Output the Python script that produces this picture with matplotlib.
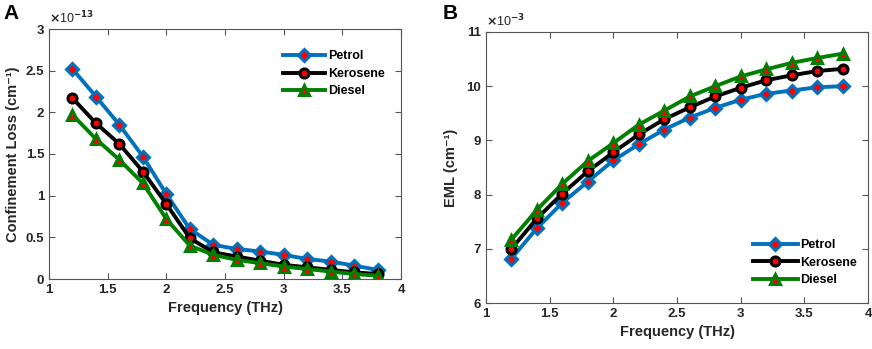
import matplotlib
matplotlib.use('Agg')
import matplotlib.pyplot as plt

plt.rcParams['font.family'] = ['Liberation Sans', 'DejaVu Sans']
plt.rcParams['font.weight'] = 'bold'

# Frecuencia (THz)
freq = [1.2, 1.4, 1.6, 1.8, 2.0, 2.2, 2.4, 2.6, 2.8, 3.0, 3.2, 3.4, 3.6, 3.8]

# Confinement loss, en unidades de 1e-13 cm^-1
cl_petrol = [2.52, 2.19, 1.85, 1.47, 1.02, 0.60, 0.41, 0.36, 0.33, 0.29, 0.24, 0.21, 0.16, 0.11]
cl_kerosene = [2.17, 1.87, 1.62, 1.29, 0.90, 0.49, 0.32, 0.27, 0.22, 0.17, 0.14, 0.11, 0.08, 0.06]
cl_diesel = [1.97, 1.68, 1.43, 1.15, 0.72, 0.40, 0.29, 0.23, 0.19, 0.15, 0.12, 0.09, 0.06, 0.04]

# EML, en unidades de 1e-3 cm^-1
eml_petrol = [6.82, 7.38, 7.85, 8.24, 8.63, 8.93, 9.20, 9.42, 9.60, 9.75, 9.86, 9.92, 9.98, 10.00]
eml_kerosene = [7.00, 7.56, 8.02, 8.43, 8.78, 9.11, 9.39, 9.61, 9.81, 9.97, 10.11, 10.20, 10.28, 10.32]
eml_diesel = [7.17, 7.72, 8.20, 8.62, 8.95, 9.29, 9.55, 9.81, 10.00, 10.18, 10.31, 10.43, 10.52, 10.60]

labels = ['Petrol', 'Kerosene', 'Diesel']
estilos = [
    dict(color='#0072BD', marker='D', markersize=6),
    dict(color='black', marker='o', markersize=6.5),
    dict(color='#008000', marker='^', markersize=7.5),
]

fig = plt.figure(figsize=(8.72, 3.49), dpi=100)
axA = fig.add_axes([49 / 872, 1 - 279 / 349, 352 / 872, 250 / 349])
axB = fig.add_axes([486 / 872, 1 - 303 / 349, 382 / 872, 271 / 349])


def dibujar(ax, series):
    for vals, lab, est in zip(series, labels, estilos):
        ax.plot(freq, vals, linewidth=2.8, markerfacecolor='red',
                markeredgecolor=est['color'], markeredgewidth=2.2,
                label=lab, **est)
    ax.set_xlim(1, 4)
    ax.set_xticks([1, 1.5, 2, 2.5, 3, 3.5, 4])
    ax.set_xticklabels(['1', '1.5', '2', '2.5', '3', '3.5', '4'])
    ax.tick_params(direction='in', top=True, right=True, length=4,
                   color='#555555', labelsize=9.5, labelcolor='#262626')
    for s in ax.spines.values():
        s.set_color('#555555')
        s.set_linewidth(0.8)
    ax.set_xlabel('Frequency (THz)', fontsize=10.5, fontweight='bold', color='#262626', labelpad=4)


dibujar(axA, [cl_petrol, cl_kerosene, cl_diesel])
axA.set_ylim(0, 3)
axA.set_yticks([0, 0.5, 1, 1.5, 2, 2.5, 3])
axA.set_yticklabels(['0', '0.5', '1', '1.5', '2', '2.5', '3'])
axA.set_ylabel('Confinement Loss (cm⁻¹)', fontsize=10.5, fontweight='bold',
               color='#262626', labelpad=4)
axA.text(0.0, 1.01, r'$\times$10$^{-13}$', transform=axA.transAxes, fontsize=9, color='#262626',
         ha='left', va='bottom', fontweight='normal')
axA.legend(loc='upper right', frameon=False, handlelength=3.4, fontsize=9,
           bbox_to_anchor=(0.985, 0.96), labelspacing=0.45, handletextpad=0.2)

dibujar(axB, [eml_petrol, eml_kerosene, eml_diesel])
axB.set_ylim(6, 11)
axB.set_yticks([6, 7, 8, 9, 10, 11])
axB.set_ylabel('EML (cm⁻¹)', fontsize=10.5, fontweight='bold', color='#262626', labelpad=6)
axB.text(0.0, 1.01, r'$\times$10$^{-3}$', transform=axB.transAxes, fontsize=9, color='#262626',
         ha='left', va='bottom', fontweight='normal')
axB.legend(loc='lower right', frameon=False, handlelength=3.6, fontsize=9,
           bbox_to_anchor=(1.0, 0.02), labelspacing=0.45, handletextpad=0.2)

fig.text(3 / 872, 1 - 4 / 349, 'A', fontsize=15, fontweight='bold', va='top', ha='left')
fig.text(443 / 872, 1 - 4 / 349, 'B', fontsize=15, fontweight='bold', va='top', ha='left')

fig.savefig('out.png', dpi=100, facecolor='white')
